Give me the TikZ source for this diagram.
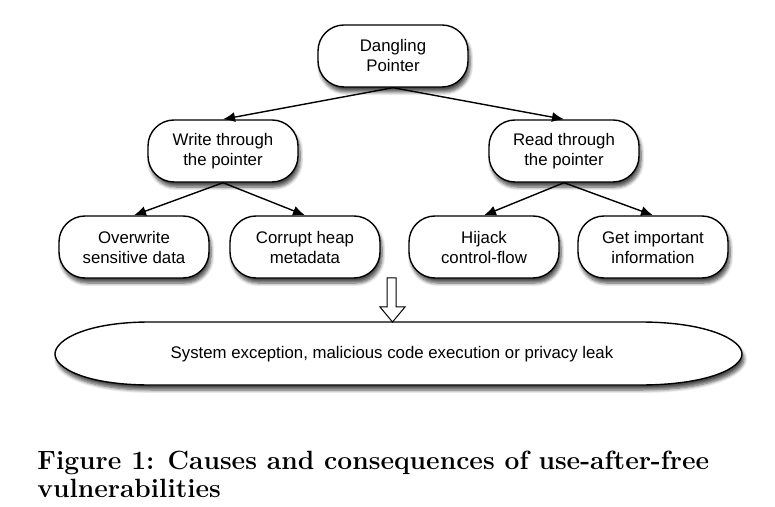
\documentclass[tikz,border=0pt]{standalone}
\usepackage{fontspec}
\setsansfont{Liberation Sans}
\usetikzlibrary{arrows.meta,shadows.blur}

\tikzset{%
  every box/.style={
    rectangle,
    rounded corners=13pt,
    draw,
    fill=white,
    line width=0.7pt,
    minimum width=75pt,
    minimum height=31pt,
    align=center,
    font=\sffamily\fontsize{8.4}{10}\selectfont,
    blur shadow={shadow xshift=1pt, shadow yshift=-2.5pt, shadow blur steps=6, shadow opacity=70}
  },
  tree arrow/.style={
    -{Latex[length=6pt,width=5pt]},
    line width=0.7pt
  },
  result outline/.style={
    draw,
    fill=white,
    line width=0.7pt,
    blur shadow={shadow xshift=1pt, shadow yshift=-2.5pt, shadow blur steps=6, shadow opacity=70}
  },
}

\begin{document}
\begin{tikzpicture}[x=0.5pt,y=-0.5pt]
\useasboundingbox (0,0) rectangle (775,507);

\node [every box] (top) at (393,56) {Dangling\\Pointer};

\foreach \m/\x/\t in {write/223/Write through\\the pointer, read/564/Read through\\the pointer}
  \node [every box] (mid-\m) at (\x,151) {\t};

\foreach \m/\x/\t in {1/134/Overwrite\\sensitive data, 2/305/Corrupt heap\\metadata,
                      3/484/Hijack\\control-flow, 4/653/Get important\\information}
  \node [every box] (leaf-\m) at (\x,247) {\t};

\foreach \j in {write,read}
  \draw [tree arrow] (top.south) -- (mid-\j.north);

\foreach \j in {1,2}
  \draw [tree arrow] (mid-write.south) -- (leaf-\j.north);

\foreach \j in {3,4}
  \draw [tree arrow] (mid-read.south) -- (leaf-\j.north);

% outcome
\draw [result outline] (150,322) -- (640,322)
  .. controls (708,322) and (742,340) .. (742,354)
  .. controls (742,368) and (708,385) .. (640,385) -- (150,385)
  .. controls (86,385) and (55,368) .. (55,354)
  .. controls (55,340) and (86,322) .. (150,322) -- cycle;
\node [font=\sffamily\fontsize{8.4}{10}\selectfont] (result) at (392,354)
  {System exception, malicious code execution or privacy leak};

\draw [fill=white, line width=0.5pt] (387,278) -- (396,278) -- (396,307) -- (405,307)
  -- (392.5,322) -- (380,307) -- (387,307) -- cycle;

\node [anchor=north west, align=left, inner sep=0pt,
       font=\fontsize{13.2}{14}\bfseries\selectfont] (caption) at (37,451)
  {Figure 1: Causes and consequences of use-after-free\\vulnerabilities};

\end{tikzpicture}
\end{document}
